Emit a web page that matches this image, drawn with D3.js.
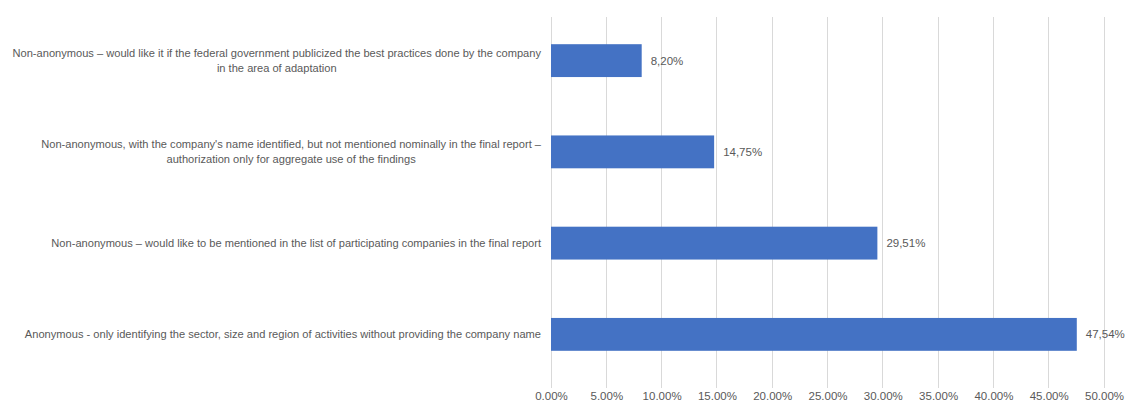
<!DOCTYPE html>
<html>
<head>
<meta charset="utf-8">
<script src="https://cdn.jsdelivr.net/npm/d3@7"></script>
<style>
  html, body { margin: 0; padding: 0; background: #fff; }
  svg { display: block; }
  text { font-family: "Liberation Sans", Arial, sans-serif; fill: #595959; }
</style>
</head>
<body>
<svg id="chart" width="1126" height="401"></svg>
<script>
// Category labels, each split into its printed lines (top to bottom)
const categories = [
  ["Non-anonymous \u2013 would like it if the federal government publicized the best practices done by the company",
   "in the area of adaptation"],
  ["Non-anonymous, with the company's name identified, but not mentioned nominally in the final report \u2013",
   "authorization only for aggregate use of the findings"],
  ["Non-anonymous \u2013 would like to be mentioned in the list of participating companies in the final report"],
  ["Anonymous - only identifying the sector, size and region of activities without providing the company name"]
];
const values = [8.20, 14.75, 29.51, 47.54];
const valueLabels = ["8,20%", "14,75%", "29,51%", "47,54%"];
const tickValues = [0, 5, 10, 15, 20, 25, 30, 35, 40, 45, 50];
const tickLabels = ["0.00%", "5.00%", "10.00%", "15.00%", "20.00%", "25.00%", "30.00%", "35.00%", "40.00%", "45.00%", "50.00%"];

const svg = d3.select("#chart");
const plotLeft = 551, plotRight = 1104, plotTop = 15, plotBottom = 380;
const gridTop = 17, gridBottom = 388;

const x = d3.scaleLinear().domain([0, 50]).range([plotLeft, plotRight]);
const y = d3.scaleBand().domain(d3.range(values.length)).range([plotTop, plotBottom]).paddingInner(0.64).paddingOuter(0.32);

// Vertical gridlines
svg.append("g").selectAll("line").data(tickValues).join("line")
  .attr("x1", d => x(d)).attr("x2", d => x(d))
  .attr("y1", gridTop).attr("y2", gridBottom)
  .attr("stroke", "#d9d9d9").attr("stroke-width", 1)
  .attr("shape-rendering", "crispEdges");

// X axis tick labels along the bottom edge
const xAxis = d3.axisBottom(x).tickValues(tickValues).tickSize(0).tickPadding(0)
  .tickFormat((d, i) => tickLabels[i]);
const gx = svg.append("g").attr("transform", `translate(0, ${gridBottom})`).call(xAxis);
gx.select(".domain").remove();
gx.selectAll("text").attr("font-size", 11.5).attr("fill", "#595959")
  .style("font-family", "'Liberation Sans', Arial, sans-serif")
  .attr("y", 12).attr("dy", 0);

// Bars
svg.append("g").selectAll("rect").data(values).join("rect")
  .attr("x", x(0)).attr("y", (d, i) => y(i))
  .attr("width", d => x(d) - x(0)).attr("height", y.bandwidth())
  .attr("fill", "#4472c4");

// Value labels
svg.append("g").selectAll("text").data(values).join("text")
  .attr("x", d => x(d) + 9).attr("y", (d, i) => y(i) + y.bandwidth() / 2)
  .attr("dy", "0.35em").attr("font-size", 11.5)
  .text((d, i) => valueLabels[i]);

// Category labels: block right-aligned to the axis, lines centred within the block
const labelRight = 541, lineH = 15;
const catG = svg.append("g");
categories.forEach((lines, i) => {
  const cy = y(i) + y.bandwidth() / 2;
  const g = catG.append("g");
  const texts = lines.map((ln, j) => g.append("text")
    .attr("font-size", 11.1)
    .attr("y", cy + (j - (lines.length - 1) / 2) * lineH)
    .attr("dy", "0.35em")
    .text(ln));
  const widths = texts.map(t => t.node().getComputedTextLength());
  const maxW = d3.max(widths);
  texts.forEach(t => t.attr("text-anchor", "middle").attr("x", labelRight - maxW / 2));
});
</script>
</body>
</html>
